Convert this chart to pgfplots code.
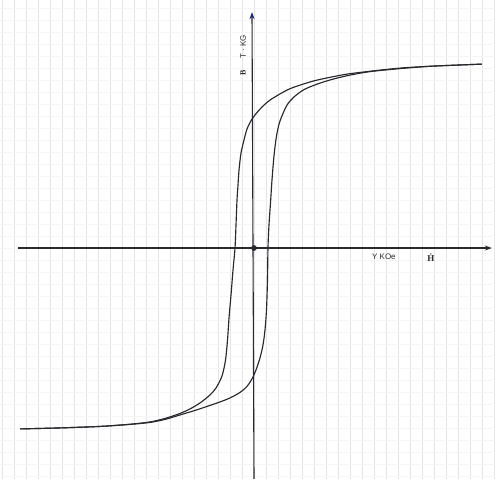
\documentclass[border=0pt]{standalone}
\usepackage{fontspec}
\setmainfont{Liberation Sans}
\newfontfamily\serif{Liberation Serif}
\usepackage{pgfplots}
\pgfplotsset{compat=1.18}
\usetikzlibrary{arrows.meta}
\definecolor{ink}{RGB}{40,40,45}
\definecolor{arrowblue}{RGB}{30,35,110}
\begin{document}
\begin{tikzpicture}
\begin{axis}[
  width=495pt, height=479pt, scale only axis,
  xmin=-254, xmax=241, ymin=-231, ymax=248,
  axis line style={draw=none},
  xtick distance=12, ytick distance=12,
  xticklabels={}, yticklabels={},
  xticklabel style={overlay}, yticklabel style={overlay},
  major tick length=0pt,
  xmajorgrids, ymajorgrids,
  x grid style={black!10, line width=0.35pt},
  y grid style={black!4, line width=0.3pt},
  clip=false,
]
% axes
\addplot[ink, line width=1.1pt, -{Stealth[length=7pt,width=5pt]}] coordinates {(-236,0) (238,0)};
\addplot[ink, line width=1.1pt, -{Stealth[length=7pt,width=5pt,color=arrowblue]}] coordinates {(0,-231) (-2,236)};
% descending branch
\addplot[ink, line width=1.15pt, smooth, tension=0.5] coordinates {
(228,184) (179,182) (146,180) (113,176.5) (90,173.5) (63,168) (46,163) (33,158)
(16,148) (6,139) (-2,129) (-7,119) (-10,108) (-13,95) (-15,78) (-16,63) (-17,48)
(-18,23) (-19,0) (-21,-22) (-23,-47) (-25,-70) (-26.5,-92) (-28.5,-112) (-32,-128)
(-38,-140) (-44,-147) (-54,-155) (-64,-161) (-74,-165.5) (-89,-170.5) (-104,-174)
(-124,-176.3) (-154,-178.5) (-194,-180) (-234,-181)};
% ascending branch
\addplot[ink, line width=1.15pt, smooth, tension=0.5] coordinates {
(-234,-181) (-194,-180) (-154,-178.5) (-124,-176.5) (-104,-174.5) (-89,-171.5)
(-74,-167) (-59,-162.5) (-47,-158.5) (-34,-154) (-24,-150) (-14,-144.5) (-7,-138.5)
(-2,-131) (2,-122) (6,-110) (9,-97) (11,-82) (12.5,-62) (13.5,-32) (14,0)
(15,23) (16.5,45) (18,68) (20,92) (22.5,112) (26,127) (33,143) (41,152)
(51,159) (66,165) (81,169.5) (96,173) (116,176.5) (146,179.5) (179,182) (228,184)};
% origin dot
\addplot[only marks, mark=*, mark size=2.6pt, ink] coordinates {(0,0)};
% labels
\node[rotate=90, font=\fontsize{8}{9}\selectfont, text=ink] at (axis cs:-11,201) {T · KG};
\node[rotate=90, font=\serif\bfseries\fontsize{8}{9}\selectfont, text=ink] at (axis cs:-11,175) {B};
\node[font=\fontsize{8}{9}\selectfont, text=ink] at (axis cs:130,-9) {Y KOe};
\node[font=\serif\bfseries\fontsize{9}{10}\selectfont, text=ink] at (axis cs:177,-10) {\.{H}};
\end{axis}
\end{tikzpicture}
\end{document}
